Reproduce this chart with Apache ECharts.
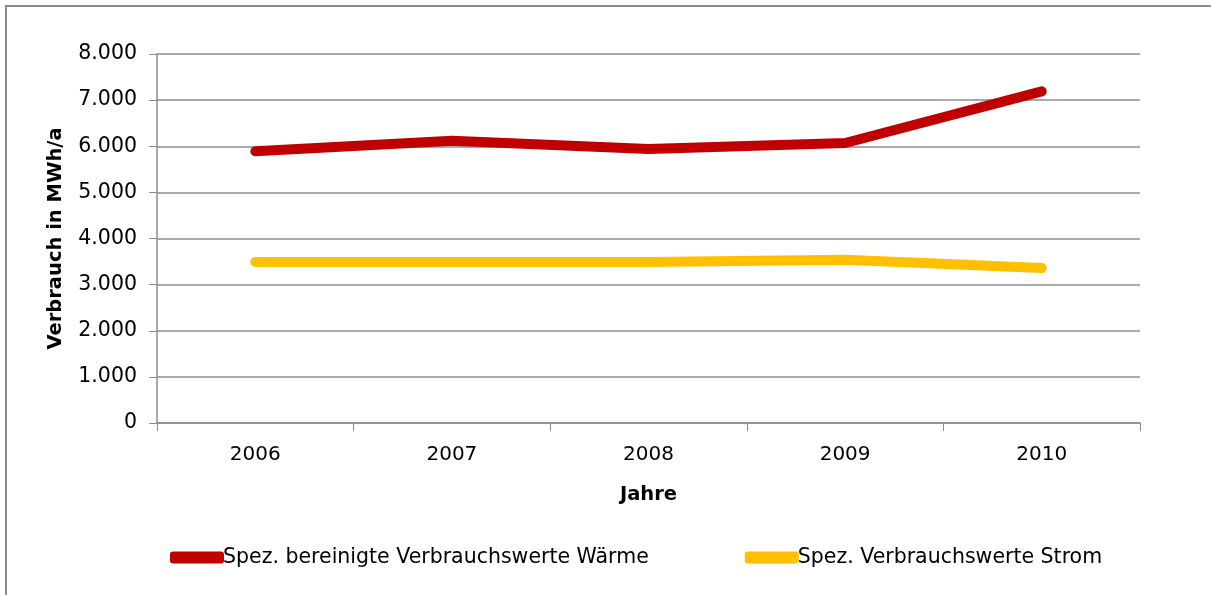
<!DOCTYPE html>
<html>
<head>
<meta charset="utf-8">
<script src="https://cdn.jsdelivr.net/npm/echarts@6/dist/echarts.min.js"></script>
<style>
html,body{margin:0;padding:0;background:#fff;overflow:hidden;}
#frame{position:absolute;left:5px;top:5px;width:1300px;height:700px;border-left:2px solid #8c8c8c;border-top:2px solid #8c8c8c;}
#chart{position:absolute;left:0;top:0;width:1211px;height:595px;}
</style>
</head>
<body>
<div id="frame"></div>
<div id="chart"></div>
<script>
const years = ['2006', '2007', '2008', '2009', '2010'];
const waerme = [5890, 6120, 5940, 6070, 7190];
const strom = [3490, 3490, 3490, 3540, 3360];
const waermeName = 'Spez. bereinigte Verbrauchswerte Wärme';
const stromName = 'Spez. Verbrauchswerte Strom';

let chart = echarts.init(document.getElementById('chart'));
const font = '"DejaVu Sans", sans-serif';
chart.setOption({
    animation: false,
    color: ['#c00000', '#ffc000'],
    textStyle: {fontFamily: font},
    grid: {left: 157, right: 71, top: 54, bottom: 172},
    legend: {
        bottom: 22,
        left: 165,
        itemGap: 96,
        itemWidth: 54,
        itemHeight: 12,
        textStyle: {fontSize: 20.5, color: '#000', fontFamily: font, padding: [0, 0, 0, -6]},
        data: [
            {name: waermeName, icon: 'roundRect'},
            {name: stromName, icon: 'roundRect'}
        ]
    },
    xAxis: {
        type: 'category',
        data: years,
        boundaryGap: true,
        name: 'Jahre',
        nameLocation: 'middle',
        nameGap: 62,
        nameTextStyle: {fontWeight: 'bold', fontSize: 19.5, color: '#000'},
        axisLine: {lineStyle: {color: '#8c8c8c', width: 1.5}},
        axisTick: {show: true, length: 8, lineStyle: {color: '#8c8c8c'}},
        axisLabel: {fontSize: 20, color: '#000', margin: 22}
    },
    yAxis: {
        type: 'value',
        min: 0,
        max: 8000,
        interval: 1000,
        name: 'Verbrauch in MWh/a',
        nameLocation: 'middle',
        nameGap: 91,
        nameTextStyle: {fontWeight: 'bold', fontSize: 19.5, color: '#000'},
        axisLine: {show: true, lineStyle: {color: '#8c8c8c', width: 1.5}},
        axisTick: {show: true, length: 8, inside: false, lineStyle: {color: '#8c8c8c'}},
        splitLine: {lineStyle: {color: '#8c8c8c', width: 1.5}},
        axisLabel: {
            fontSize: 20.5, color: '#000', margin: 20,
            formatter: function (v) {
                return v === 0 ? '0' : (v / 1000).toFixed(0) + '.000';
            }
        }
    },
    series: [
        {
            name: waermeName,
            type: 'line',
            data: waerme,
            symbol: 'none',
            lineStyle: {width: 10, cap: 'round', join: 'round'}
        },
        {
            name: stromName,
            type: 'line',
            data: strom,
            symbol: 'none',
            lineStyle: {width: 10, cap: 'round', join: 'round'}
        }
    ]
});
</script>
</body>
</html>
